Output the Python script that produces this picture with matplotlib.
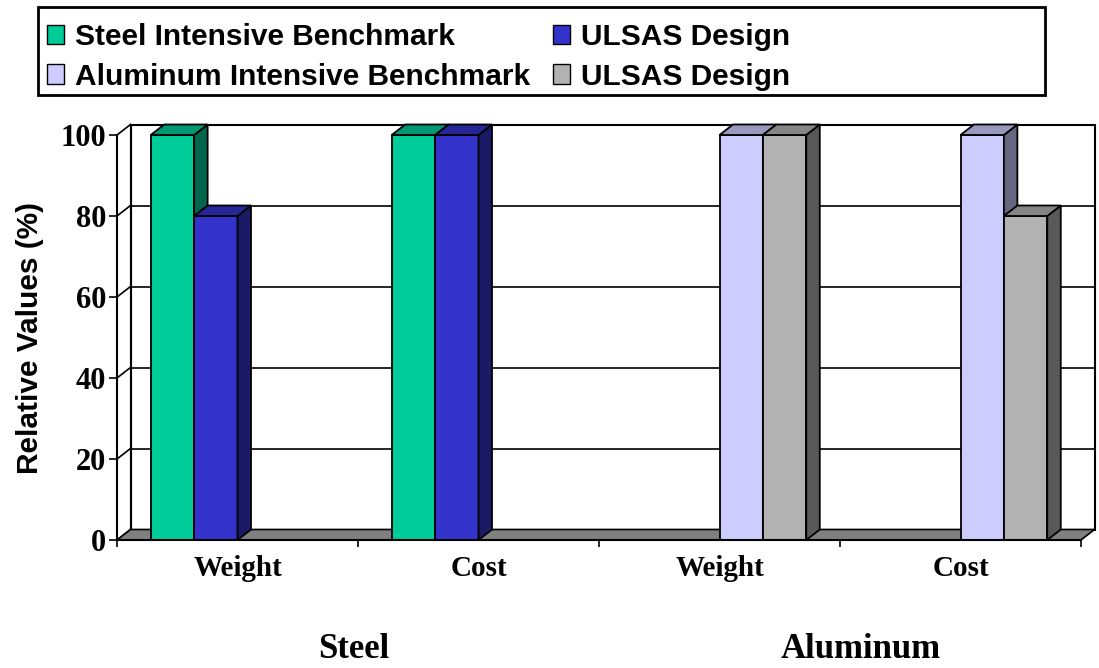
import matplotlib
matplotlib.use("Agg")
import matplotlib.pyplot as plt
from matplotlib.patches import Polygon, Rectangle, Patch
import matplotlib.colors as mcolors
import numpy as np

# ---- data ----
categories = ["Weight", "Cost", "Weight", "Cost"]
groups = ["Steel", "Aluminum"]
series_names = ["Steel Intensive Benchmark", "ULSAS Design",
                "Aluminum Intensive Benchmark", "ULSAS Design"]
steel_bench = [100, 100, 0, 0]
steel_ulsas = [80, 100, 0, 0]
alum_bench = [0, 0, 100, 100]
alum_ulsas = [0, 0, 100, 80]
yticks = [0, 20, 40, 60, 80, 100]

series_values = [steel_bench, steel_ulsas, alum_bench, alum_ulsas]
face_colors = ["#00CC99", "#3333CC", "#CCCCFF", "#B2B2B2"]

W, H = 1099, 668
fig = plt.figure(figsize=(W / 100, H / 100), dpi=100)

def fx(px):
    return px / W

def fy(py):
    return 1 - py / H

# axes = front plane of the 3D box
L, R, T, B = 117, 1081, 135, 540
ax = fig.add_axes([fx(L), fy(B), fx(R) - fx(L), fy(T) - fy(B)])
xmin, xmax = -0.5, len(categories) - 0.5
ax.set_xlim(xmin, xmax)
ax.set_ylim(0, 100)

px_per_x = (R - L) / (xmax - xmin)
px_per_y = (B - T) / 100.0
DX = 13.5 / px_per_x
DY = 10.5 / px_per_y

# back wall
wall = Polygon([(xmin + DX, DY), (xmax + DX, DY), (xmax + DX, 100 + DY), (xmin + DX, 100 + DY)],
               closed=True, facecolor="white", edgecolor="black", lw=1.5, zorder=0.5, clip_on=False)
ax.add_patch(wall)
for v in yticks:
    ax.plot([xmin + DX, xmax + DX], [v + DY, v + DY], color="black", lw=1.2, zorder=0.8, clip_on=False)
    ax.plot([xmin, xmin + DX], [v, v + DY], color="black", lw=1.2, zorder=0.8, clip_on=False)
# left wall back edge
ax.plot([xmin + DX, xmin + DX], [DY, 100 + DY], color="black", lw=1.5, zorder=0.8, clip_on=False)

# floor
floor = Polygon([(xmin, 0), (xmax, 0), (xmax + DX, DY), (xmin + DX, DY)], closed=True,
                facecolor="#808080", edgecolor="black", lw=1.2, zorder=1, clip_on=False)
ax.add_patch(floor)

# bars
x = np.arange(len(categories))
bw = 0.18
nser = len(series_values)

def shade(c, f):
    r, g, b = mcolors.to_rgb(c)
    return (r * f, g * f, b * f)

z = 2.0
for ci in range(len(categories)):
    for si in range(nser):
        v = series_values[si][ci]
        xc = x[ci] + (si - (nser - 1) / 2) * bw
        x0, x1 = xc - bw / 2, xc + bw / 2
        ax.bar([xc], [v], width=bw, color=face_colors[si], edgecolor="black", lw=1.3,
               zorder=z, clip_on=False)
        if v > 0:
            top = Polygon([(x0, v), (x1, v), (x1 + DX, v + DY), (x0 + DX, v + DY)], closed=True,
                          facecolor=shade(face_colors[si], 0.75), edgecolor="black", lw=1.3,
                          zorder=z, clip_on=False)
            side = Polygon([(x1, 0), (x1 + DX, DY), (x1 + DX, v + DY), (x1, v)], closed=True,
                           facecolor=shade(face_colors[si], 0.5), edgecolor="black", lw=1.3,
                           zorder=z, clip_on=False)
            ax.add_patch(side)
            ax.add_patch(top)
        z += 0.1

# spines / ticks
for s in ["top", "right"]:
    ax.spines[s].set_visible(False)
ax.spines["left"].set_linewidth(1.5)
ax.spines["bottom"].set_linewidth(1.5)
ax.spines["left"].set_zorder(10)
ax.spines["bottom"].set_zorder(10)
ax.patch.set_visible(False)

ax.set_yticks(yticks)
ax.set_yticklabels([str(v) for v in yticks], fontfamily="Liberation Serif",
                   fontweight="bold", fontsize=22)
ax.tick_params(axis="y", length=6, width=1.2, pad=2)
ax.set_xticks(np.arange(xmin, xmax + 0.01, 1.0))
ax.set_xticklabels([])
ax.set_xticks(x, minor=True)
ax.set_xticklabels(categories, minor=True, fontfamily="Liberation Serif",
                   fontweight="bold", fontsize=21)
ax.tick_params(axis="x", which="major", length=5, width=1.2)
ax.tick_params(axis="x", which="minor", length=0, pad=11)

ax.set_ylabel("Relative Values (%)", fontfamily="Liberation Sans", fontweight="bold", fontsize=21.5)
ax.yaxis.set_label_coords(-0.076, 0.5)

# group labels
fig.text(fx(354), fy(649), groups[0], ha="center", va="center",
         fontfamily="Liberation Serif", fontweight="bold", fontsize=25)
fig.text(fx(861), fy(649), groups[1], ha="center", va="center",
         fontfamily="Liberation Serif", fontweight="bold", fontsize=25)

# legend
handles = [Patch(facecolor=c, edgecolor="black", lw=1) for c in face_colors]
order = [0, 2, 1, 3]
leg = fig.legend([handles[i] for i in order], [series_names[i] for i in order],
                 ncol=2, frameon=False, loc="upper left",
                 bbox_to_anchor=(fx(38), fy(14)),
                 prop={"family": "Liberation Sans", "weight": "bold", "size": 21.5},
                 handlelength=0.58, handleheight=0.62, handletextpad=0.36,
                 columnspacing=0.75, labelspacing=0.39, borderaxespad=0, borderpad=0.3)
fig.patches.append(Rectangle((fx(38), fy(95)), fx(1045) - fx(38), fy(7) - fy(95),
                             transform=fig.transFigure, fill=False, edgecolor="black", lw=2))

fig.savefig("out.png", dpi=100)
